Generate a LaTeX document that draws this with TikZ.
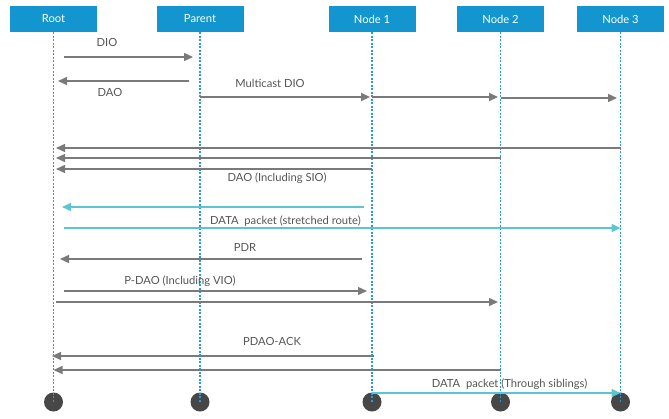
\documentclass[tikz,border=0pt]{standalone}
\usepackage{fontspec}
\setmainfont{Lato}
\usetikzlibrary{arrows.meta,calc}
\definecolor{hdrblue}{HTML}{1396D0}
\definecolor{lifeblue}{HTML}{2A9AD8}
\definecolor{msggray}{HTML}{7A7A7A}
\definecolor{msgcyan}{HTML}{5BC5D3}
\definecolor{labgray}{HTML}{555555}
\definecolor{dotgray}{HTML}{474747}
\tikzset{
  hdr/.style={fill=hdrblue,text=white,minimum width=87pt,minimum height=26pt,inner sep=0pt,font=\fontsize{11.2}{13}\selectfont},
  life/.style={draw=lifeblue,line width=1.3pt,dash pattern=on 2pt off 1.5pt},
  enddot/.style={circle,fill=dotgray,minimum size=19pt,inner sep=0pt},
  msg/.style={draw=msggray,line width=1.4pt,-{Triangle[length=9pt,width=8pt]}},
  cmsg/.style={draw=msgcyan,line width=1.4pt,-{Triangle[length=9pt,width=8pt]}},
  lab/.style={text=labgray,font=\fontsize{11.2}{13}\selectfont,inner sep=0pt}
}
\begin{document}
\begin{tikzpicture}[x=1pt,y=-1pt]
\useasboundingbox (0,0) rectangle (669,418);
% headers
\node[hdr] (root) at (53.5,19) {Root};
\node[hdr] (parent) at (200,19) {Parent};
\node[hdr] (n1) at (372,19) {Node 1};
\node[hdr] (n2) at (500.5,19) {Node 2};
\node[hdr] (n3) at (620.5,19) {Node 3};
% end dots
\node[enddot] (eroot) at (53.5,402) {};
\node[enddot] (eparent) at (200,402) {};
\node[enddot] (en1) at (372,402) {};
\node[enddot] (en2) at (500.5,402) {};
\node[enddot] (en3) at (620.5,402) {};
% lifelines
\foreach \a/\b in {root/eroot,parent/eparent,n1/en1,n2/en2,n3/en3}
  \draw[life] (\a.south) -- (\b.center);
% messages
\draw[msg] ($(root |- 0,57)+(10.5,0)$) -- ($(parent |- 0,57)+(-7,0)$);
\node[lab] (lDIO) at (107,42) {DIO};
\draw[msg] ($(parent |- 0,81)+(-11,0)$) -- ($(root |- 0,81)+(4.5,0)$);
\node[lab] (lDAO) at (110,92) {DAO};
\draw[msg,line width=1.8pt] (parent |- 0,97) -- ($(n1 |- 0,97)+(-2,0)$);
\draw[msg,line width=1.8pt] (n1 |- 0,97) -- ($(n2 |- 0,97)+(-2.5,0)$);
\draw[msg] (n2 |- 0,98) -- ($(n3 |- 0,98)+(-3.5,0)$);
\node[lab] (lMDIO) at (270,83) {Multicast DIO};
\draw[msg] (n3 |- 0,148) -- ($(root |- 0,148)+(2.5,0)$);
\draw[msg] (n2 |- 0,158) -- ($(root |- 0,158)+(2.5,0)$);
\draw[msg] (n1 |- 0,169) -- ($(root |- 0,169)+(2.5,0)$);
\node[lab] (lDAOS) at (277,178) {DAO (Including SIO)};
\draw[cmsg] ($(n1 |- 0,207)+(-8,0)$) -- ($(root |- 0,207)+(8.5,0)$);
\node[lab] (lDATA1) at (285.5,221) {DATA\ \ packet (stretched route)};
\draw[cmsg] ($(root |- 0,228)+(10.5,0)$) -- (n3 |- 0,228);
\node[lab] (lPDR) at (245,247) {PDR};
\draw[msg] ($(n1 |- 0,259)+(-10,0)$) -- ($(root |- 0,259)+(6.5,0)$);
\node[lab] (lPDAO) at (180,281) {P-DAO (Including VIO)};
\draw[msg] ($(root |- 0,291)+(10.5,0)$) -- ($(n1 |- 0,291)+(-5,0)$);
\draw[msg] ($(root |- 0,302)+(2.5,0)$) -- ($(n2 |- 0,302)+(-2.5,0)$);
\node[lab] (lACK) at (272,341) {PDAO-ACK};
\draw[msg] ($(n1 |- 0,356)+(2,0)$) -- ($(root |- 0,356)+(-1.5,0)$);
\draw[msg] (n2 |- 0,370) -- (root |- 0,370);
\node[lab] (lDATA2) at (509.5,384) {DATA\ \ packet (Through siblings)};
\draw[cmsg] (n1 |- 0,393) -- (n3 |- 0,393);
\end{tikzpicture}
\end{document}
